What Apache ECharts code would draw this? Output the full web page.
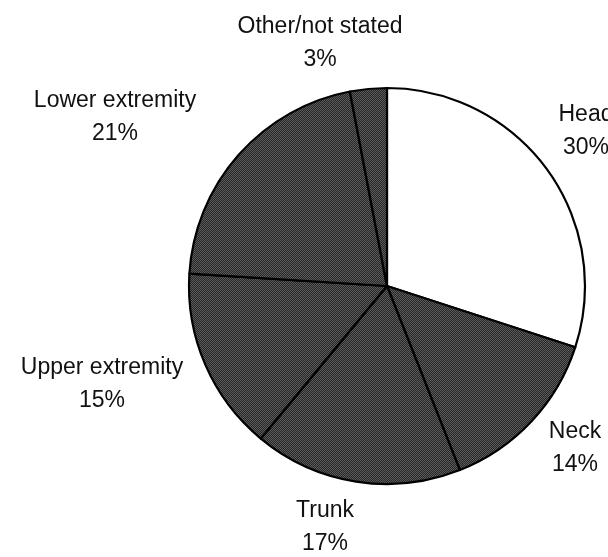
<!DOCTYPE html>
<html>
<head>
<meta charset="utf-8">
<script src="https://cdn.jsdelivr.net/npm/echarts@6/dist/echarts.min.js"></script>
<style>
html,body{margin:0;padding:0;background:#fff;}
#chart{width:608px;height:557px;}
</style>
</head>
<body>
<div id="chart"></div>
<script>
// Data
var categories = ['Head', 'Neck', 'Trunk', 'Upper extremity', 'Lower extremity', 'Other/not stated'];
var values = [30, 14, 17, 15, 21, 3];

// Label block centres (layout only)
var labelPos = [[586, 131], [575, 448], [325, 527], [102, 384], [115, 117], [320, 43]];

// Hatched fill pattern
var pc = document.createElement('canvas');
pc.width = 2; pc.height = 2;
var pctx = pc.getContext('2d');
pctx.fillStyle = '#262626'; pctx.fillRect(0, 0, 2, 2);
pctx.fillStyle = '#5c5c5c'; pctx.fillRect(0, 0, 1, 1); pctx.fillRect(1, 1, 1, 1);
var hatch = { image: pc, repeat: 'repeat' };

var data = categories.map(function (c, i) {
  return {
    name: c,
    value: values[i],
    itemStyle: { color: i === 0 ? '#ffffff' : hatch }
  };
});

var chart = echarts.init(document.getElementById('chart'), null, { renderer: 'canvas' });
chart.setOption({
  backgroundColor: '#ffffff',
  animation: false,
  series: [{
    type: 'pie',
    center: [387, 286],
    radius: [0, 198],
    startAngle: 90,
    clockwise: true,
    avoidLabelOverlap: false,
    itemStyle: { borderColor: '#000', borderWidth: 2.2 },
    emphasis: { disabled: true },
    label: {
      show: true,
      position: 'outside',
      formatter: '{b}\n{c}%',
      fontFamily: '"Liberation Sans", Arial, sans-serif',
      fontSize: 23,
      lineHeight: 33,
      color: '#111',
      align: 'center'
    },
    labelLine: { show: false },
    labelLayout: function (p) {
      var q = labelPos[p.dataIndex];
      return { x: q[0], y: q[1], align: 'center', verticalAlign: 'middle', hideOverlap: false };
    },
    data: data
  }]
});
</script>
</body>
</html>
